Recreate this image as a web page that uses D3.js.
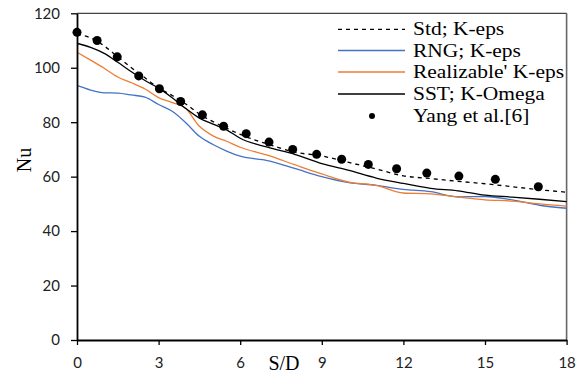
<!DOCTYPE html>
<html>
<head>
<meta charset="utf-8">
<script src="https://cdn.jsdelivr.net/npm/d3@7"></script>
<style>
  body { margin: 0; background: #fff; }
  svg { display: block; }
  .tick text { font-family: Lato, "Open Sans", sans-serif; font-size: 15px; fill: #222; }
</style>
</head>
<body>
<div id="chart"></div>
<script>
// S/D positions used for the simulated curves
let sGrid = [0, 0.5, 1, 1.5, 2, 2.5, 3, 3.5, 4, 4.5, 5, 5.5, 6, 7, 8, 9, 10, 11, 12, 13, 14, 15, 16, 17, 18];

let stdKeps   = [112.3, 111, 108, 104, 100, 96.3, 92.6, 89.8, 86.7, 83, 80.2, 77.8, 75.5, 72, 69, 67.6, 65.2, 62.8, 60.3, 59.3, 58.3, 57.4, 56.3, 55.2, 54.3];
let rngKeps   = [93.5, 91.8, 90.8, 90.7, 90, 89.2, 86.5, 84, 79.8, 74.8, 71.8, 69.4, 67.5, 65.9, 63, 60, 57.8, 56.8, 55.3, 54.5, 52.6, 52.7, 51.5, 49.5, 48.4];
let realKeps  = [105.7, 102.8, 99.8, 96.6, 94.5, 92.2, 89, 87.2, 85, 78.5, 75, 73, 70.8, 67.9, 64.4, 61, 58, 56.8, 54, 53.7, 52.5, 51.5, 51, 50, 49.2];
let sstKomega = [109, 107.5, 105.3, 102, 98.5, 95.3, 92.5, 89, 85, 81.5, 79.3, 77.2, 74.1, 70.8, 68.2, 64.8, 62.3, 59.5, 57.5, 55.7, 54.8, 53.2, 52.5, 51.7, 50.8];

// experimental points, Yang et al.
let yangX = [0, 0.74, 1.48, 2.27, 3.03, 3.81, 4.61, 5.39, 6.22, 7.06, 7.93, 8.81, 9.73, 10.71, 11.75, 12.86, 14.04, 15.38, 16.96];
let yangY = [113, 110, 104, 97, 92.3, 87.6, 82.7, 78.5, 75.8, 72.7, 70, 68.2, 66.4, 64.5, 62.9, 61.3, 60.2, 59, 56.3];

let xTicks = [0, 3, 6, 9, 12, 15, 18];
let yTicks = [0, 20, 40, 60, 80, 100, 120];

let series = [
  { name: "Std; K-eps", values: stdKeps, color: "#000", dash: "4,4" },
  { name: "RNG; K-eps", values: rngKeps, color: "#4472c4", dash: null },
  { name: "Realizable' K-eps", values: realKeps, color: "#ed7d31", dash: null },
  { name: "SST; K-Omega", values: sstKomega, color: "#000", dash: null }
];

let width = 582, height = 374;
let mLeft = 77, mRight = 566.6, mTop = 13.3, mBottom = 340;

let x = d3.scaleLinear().domain([0, 18]).range([mLeft, mRight]);
let y = d3.scaleLinear().domain([0, 120]).range([mBottom, mTop]);

let svg = d3.select("#chart").append("svg")
    .attr("width", width)
    .attr("height", height);

// frame top / right
svg.append("line")
    .attr("x1", mLeft).attr("x2", mRight).attr("y1", mTop).attr("y2", mTop)
    .attr("stroke", "#444").attr("stroke-width", 1.3);
svg.append("line")
    .attr("x1", mRight).attr("x2", mRight).attr("y1", mTop).attr("y2", mBottom)
    .attr("stroke", "#666").attr("stroke-width", 1.6);

let line = d3.line()
    .x(function(d) { return x(d[0]); })
    .y(function(d) { return y(d[1]); })
    .curve(d3.curveMonotoneX);

// draw orange/blue first, then black ones on top
[1, 2, 3, 0].forEach(function(i) {
  let s = series[i];
  svg.append("path")
      .datum(sGrid.map(function(v, j) { return [v, s.values[j]]; }))
      .attr("d", line)
      .attr("fill", "none")
      .attr("stroke", s.color)
      .attr("stroke-width", 1.3)
      .attr("stroke-dasharray", s.dash);
});

svg.append("g").selectAll("circle")
    .data(yangX.map(function(v, j) { return [v, yangY[j]]; }))
  .enter().append("circle")
    .attr("cx", function(d) { return x(d[0]); })
    .attr("cy", function(d) { return y(d[1]); })
    .attr("r", 4.5)
    .attr("fill", "#000");

// axes
let yAxis = svg.append("g")
    .attr("transform", "translate(" + mLeft + ",0)")
    .call(d3.axisLeft(y).tickValues(yTicks).tickSize(6).tickSizeOuter(0).tickPadding(11));
let xAxis = svg.append("g")
    .attr("transform", "translate(0," + mBottom + ")")
    .call(d3.axisBottom(x).tickValues(xTicks).tickSize(5).tickSizeOuter(0).tickPadding(12));
[yAxis, xAxis].forEach(function(a) {
  a.select(".domain").attr("stroke", "#000").attr("stroke-width", 1.8);
  a.selectAll(".tick line").attr("stroke", "#000").attr("stroke-width", 1.3);
});

// axis titles
svg.append("text")
    .attr("x", 284).attr("y", 370)
    .attr("text-anchor", "middle")
    .style("font-family", "'Liberation Serif', 'Times New Roman', serif")
    .style("font-size", "20px")
    .text("S/D");
svg.append("text")
    .attr("transform", "translate(31,160) rotate(-90)")
    .attr("text-anchor", "middle")
    .style("font-family", "'Liberation Serif', 'Times New Roman', serif")
    .style("font-size", "20px")
    .text("Nu");

// legend
let legend = svg.append("g");
let rowY = [29.3, 50.5, 72, 94, 116];
let legendNames = series.map(function(s) { return s.name; }).concat(["Yang et al.[6]"]);
series.forEach(function(s, i) {
  legend.append("line")
      .attr("x1", 338).attr("x2", 405)
      .attr("y1", rowY[i]).attr("y2", rowY[i])
      .attr("stroke", s.color)
      .attr("stroke-width", 1.3)
      .attr("stroke-dasharray", s.dash);
});
legend.append("circle")
    .attr("cx", 372).attr("cy", rowY[4]).attr("r", 3).attr("fill", "#000");
legendNames.forEach(function(name, i) {
  legend.append("text")
      .attr("transform", "translate(413," + (rowY[i] + 6) + ") scale(1.13,1)")
      .style("font-family", "'Liberation Serif', 'Times New Roman', serif")
      .style("font-size", "19px")
      .text(name);
});
</script>
</body>
</html>
